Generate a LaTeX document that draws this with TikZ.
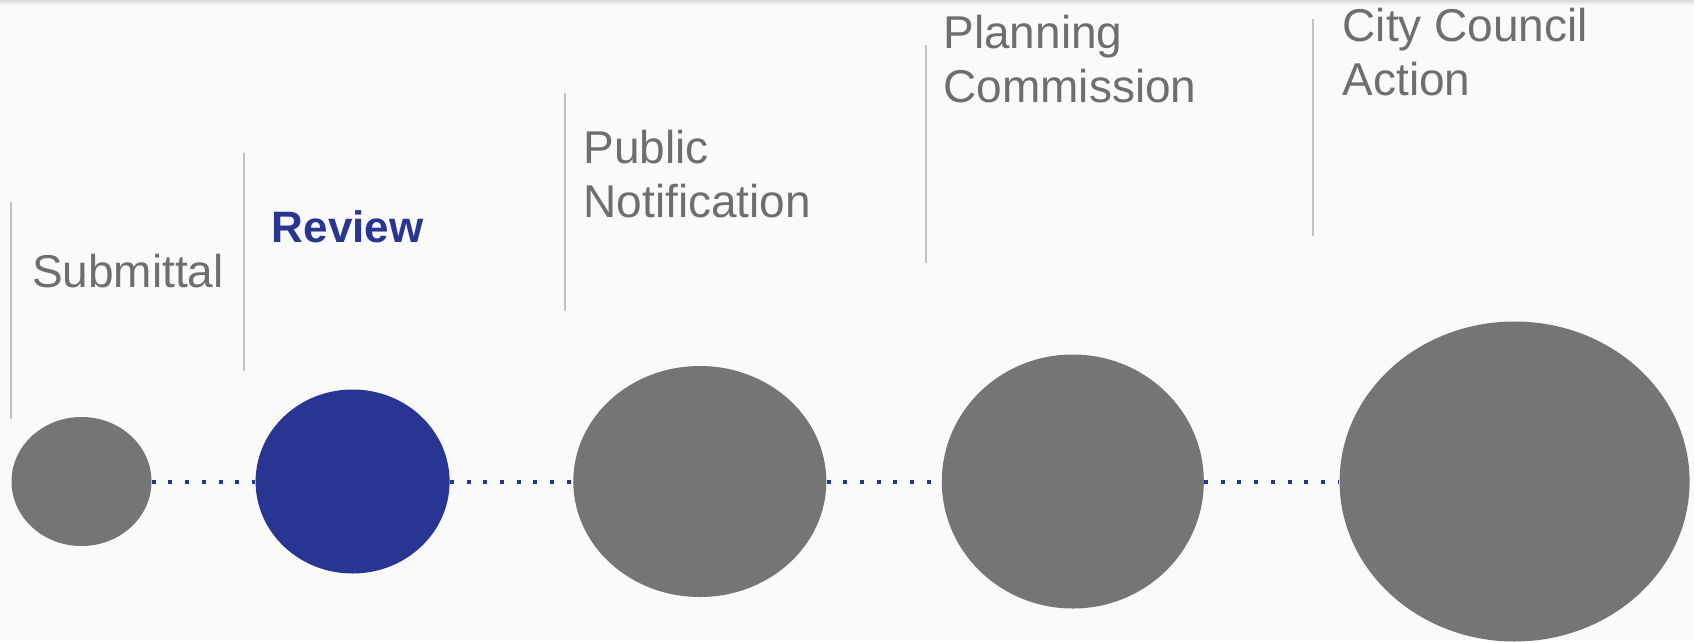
\documentclass[tikz,border=0pt]{standalone}
\usepackage{fontspec}
\setmainfont{Liberation Sans}
\usetikzlibrary{shapes.geometric}
\definecolor{bgpage}{HTML}{FAFAFA}
\definecolor{stagegray}{HTML}{757575}
\definecolor{textgray}{HTML}{6E6E6E}
\definecolor{rulegray}{HTML}{C2C2C2}
\definecolor{reviewblue}{HTML}{283593}
\tikzstyle{stage} = [ellipse, fill=stagegray, inner sep=0pt]
\tikzstyle{label} = [anchor=base west, inner sep=0pt, align=left, text=textgray, font=\fontsize{46}{54}\selectfont]
\tikzstyle{marker} = [draw=rulegray, line width=2pt]
\tikzstyle{dotline} = [draw=reviewblue, line width=4pt, dash pattern=on 4pt off 12.7pt]

\begin{document}
\begin{tikzpicture}[x=1pt, y=-1pt]
    % Page
    \useasboundingbox (0,0) rectangle (1694,641);
    \fill[bgpage] (0,0) rectangle (1694,641);
    \shade[top color=gray!30, bottom color=bgpage] (0,0) rectangle (1694,5);

    % Place stages
    \node [stage, minimum width=140pt, minimum height=129pt] (submittal) at (81.5,481.5) {};
    \node [stage, fill=reviewblue, minimum width=194pt, minimum height=184pt] (review) at (352.6,481.5) {};
    \node [stage, minimum width=253pt, minimum height=231pt] (pubnote) at (699.8,481.5) {};
    \node [stage, minimum width=262pt, minimum height=254pt] (planning) at (1072.8,481.5) {};
    \node [stage, minimum width=350pt, minimum height=320pt] (council) at (1514.6,481.5) {};

    % Markers
    \draw [marker] (10.7,201.6) -- (10.7,419);
    \draw [marker] (244,152.5) -- (244,370.8);
    \draw [marker] (564.7,93.2) -- (564.7,310.7);
    \draw [marker] (925.5,45) -- (925.5,262.5);
    \draw [marker] (1312.5,19.2) -- (1312.5,236.3);

    % Labels (base = last line)
    \node [label] (submittaltext) at (31.8,287.4) {Submittal};
    \node [label, text=reviewblue, font=\fontsize{44}{54}\selectfont\bfseries] (reviewtext) at (271.7,242.4) {Review};
    \node [label] (pubnotetext) at (583.4,217.5) {Public\\Notification};
    \node [label] (planningtext) at (943.3,102.2) {Planning\\Commission};
    \node [label] (counciltext) at (1342.4,95.3) {City Council\\Action};

    % Draw edges
    \path [dotline] (submittal) -- (review);
    \path [dotline] (review) -- (pubnote);
    \path [dotline] (pubnote) -- (planning);
    \path [dotline] (planning) -- (council);
\end{tikzpicture}
\end{document}
